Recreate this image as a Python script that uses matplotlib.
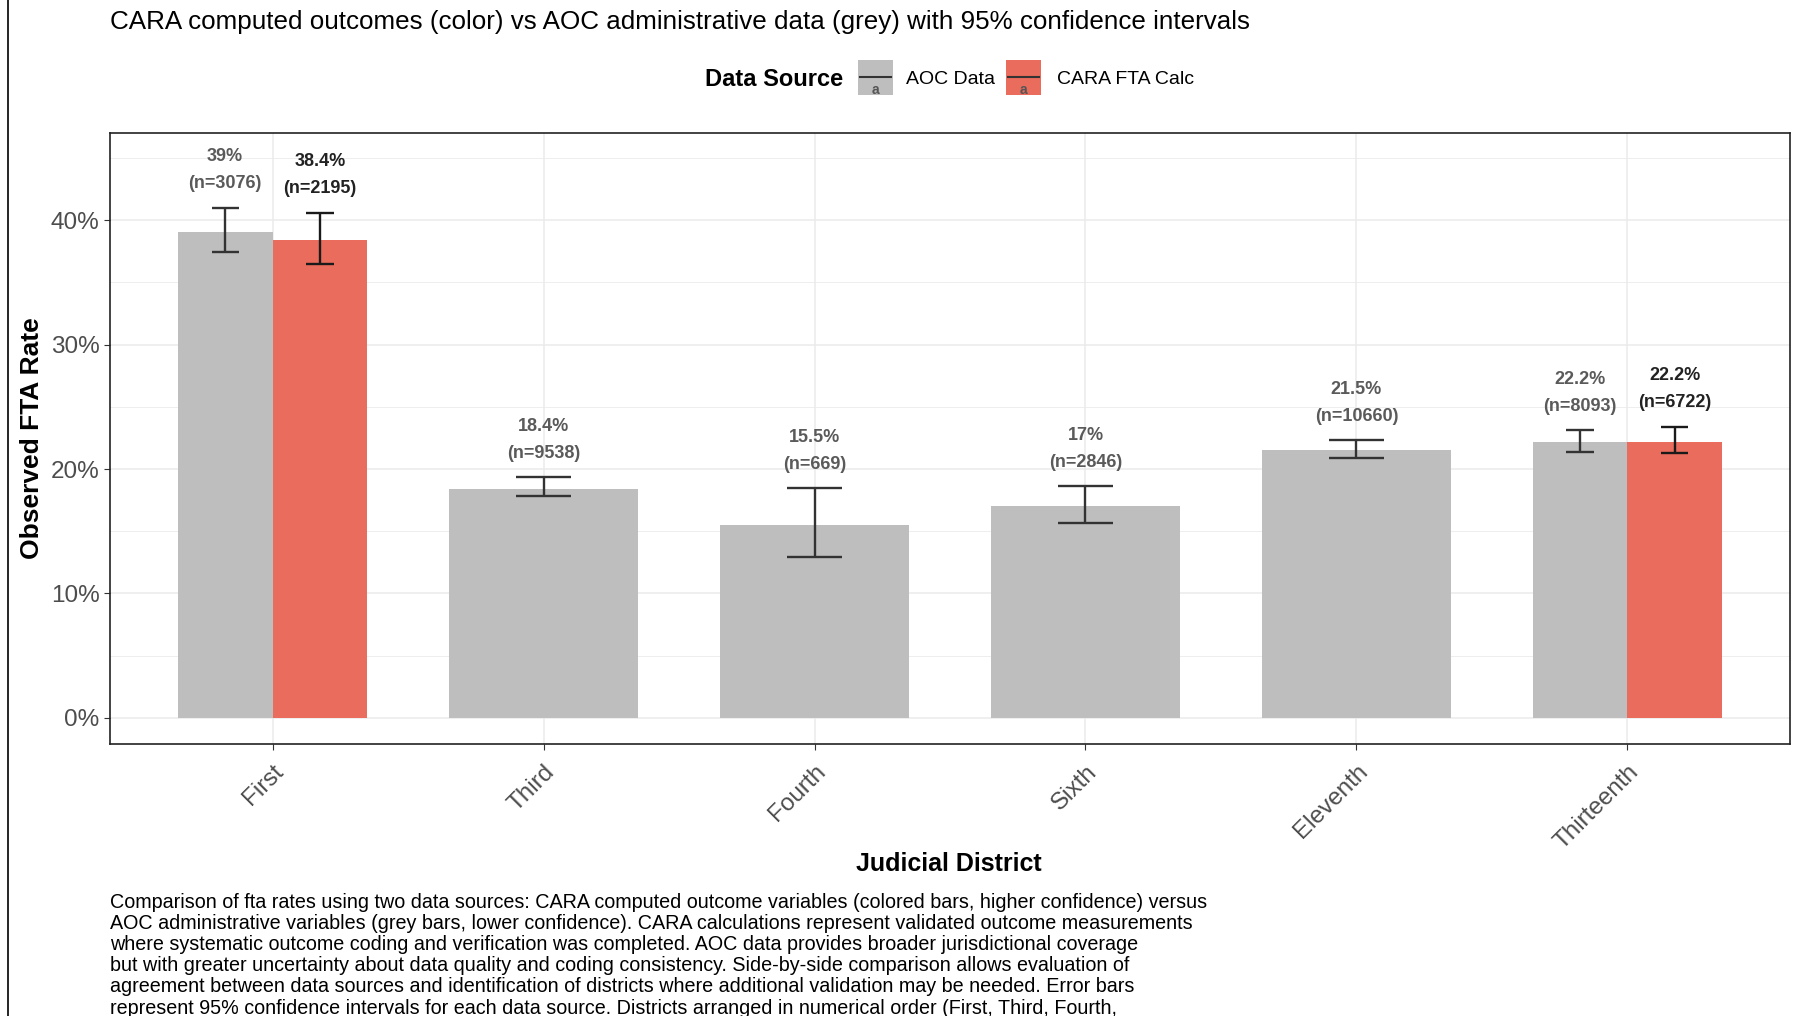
import numpy as np
import matplotlib.pyplot as plt
import matplotlib.transforms as mtransforms
from matplotlib.patches import Rectangle
from matplotlib.lines import Line2D

plt.rcParams['font.family'] = ['Liberation Sans', 'DejaVu Sans']

districts = ["First", "Third", "Fourth", "Sixth", "Eleventh", "Thirteenth"]

# AOC administrative data (grey), all districts
aoc_rate = [0.390, 0.184, 0.155, 0.170, 0.215, 0.222]
aoc_lo = [0.374, 0.178, 0.129, 0.157, 0.209, 0.214]
aoc_hi = [0.410, 0.1935, 0.1845, 0.186, 0.223, 0.231]
aoc_n = [3076, 9538, 669, 2846, 10660, 8093]

# CARA computed outcomes (colour), only two districts
cara_district = ["First", "Thirteenth"]
cara_rate = [0.384, 0.222]
cara_lo = [0.365, 0.213]
cara_hi = [0.406, 0.234]
cara_n = [2195, 6722]

caption_lines = [
    "Comparison of fta rates using two data sources: CARA computed outcome variables (colored bars, higher confidence) versus",
    "AOC administrative variables (grey bars, lower confidence). CARA calculations represent validated outcome measurements",
    "where systematic outcome coding and verification was completed. AOC data provides broader jurisdictional coverage",
    "but with greater uncertainty about data quality and coding consistency. Side-by-side comparison allows evaluation of",
    "agreement between data sources and identification of districts where additional validation may be needed. Error bars",
    "represent 95% confidence intervals for each data source. Districts arranged in numerical order (First, Third, Fourth,",
]

grey = '#BEBEBE'
red = '#EA6C5C'
W, H = 1801, 1016

def pct(r):
    return f"{round(r * 100, 1):g}%"

fig = plt.figure(figsize=(W / 100, H / 100), dpi=100)
ax = fig.add_axes([110 / W, 1 - 744 / H, 1680 / W, 611 / H])

x = np.arange(len(districts))
dodge = 0.7

for i, d in enumerate(districts):
    has_cara = d in cara_district
    if has_cara:
        xa, wa = x[i] - dodge / 4, dodge / 2
    else:
        xa, wa = x[i], dodge
    cap = 0.2 * wa / dodge / 2  # errorbar width 0.2, split when dodged
    ax.bar(xa, aoc_rate[i], width=wa, color=grey, zorder=2)
    ax.vlines(xa, aoc_lo[i], aoc_hi[i], color='#333333', lw=1.7, zorder=3)
    ax.hlines([aoc_lo[i], aoc_hi[i]], xa - cap, xa + cap, color='#333333', lw=1.7, zorder=3)
    ax.text(xa, aoc_hi[i] + 0.0125, f"{pct(aoc_rate[i])}\n(n={aoc_n[i]})", ha='center', va='bottom',
            fontsize=13, fontweight='bold', color='#5a5a5a', linespacing=1.75, zorder=4)
    if has_cara:
        j = cara_district.index(d)
        xc = x[i] + dodge / 4
        ax.bar(xc, cara_rate[j], width=dodge / 2, color=red, zorder=2)
        ax.vlines(xc, cara_lo[j], cara_hi[j], color='#1a1a1a', lw=1.7, zorder=3)
        ax.hlines([cara_lo[j], cara_hi[j]], xc - cap, xc + cap, color='#1a1a1a', lw=1.7, zorder=3)
        ax.text(xc, cara_hi[j] + 0.0125, f"{pct(cara_rate[j])}\n(n={cara_n[j]})", ha='center', va='bottom',
                fontsize=13, fontweight='bold', color='#222222', linespacing=1.75, zorder=4)

ax.set_xlim(-0.6, len(districts) - 0.4)
ax.set_ylim(-0.0209, 0.4699)
ax.set_yticks([0, 0.1, 0.2, 0.3, 0.4])
ax.set_yticks([0.05, 0.15, 0.25, 0.35, 0.45], minor=True)
ax.set_yticklabels([f"{int(v * 100)}%" for v in [0, 0.1, 0.2, 0.3, 0.4]], fontsize=17.5, color='#4d4d4d')
ax.set_xticks(x)
ax.set_xticklabels(districts, rotation=45, ha='right', va='top', rotation_mode='anchor',
                   fontsize=17.5, color='#4d4d4d')
shift = mtransforms.ScaledTranslation(4 / 100, 3 / 100, fig.dpi_scale_trans)
for lbl in ax.get_xticklabels():
    lbl.set_transform(lbl.get_transform() + shift)
ax.tick_params(axis='both', which='major', length=4, color='#333333', width=0.8)
ax.tick_params(axis='x', which='major', pad=8)
ax.tick_params(axis='y', which='minor', length=0)
ax.grid(True, which='major', color='#EBEBEB', lw=1.1, zorder=0)
ax.grid(True, which='minor', axis='y', color='#EBEBEB', lw=0.6, zorder=0)
ax.set_axisbelow(True)
for s in ax.spines.values():
    s.set_color('#222222')
    s.set_linewidth(1.2)

fig.text(32 / W, 1 - 438 / H, "Observed FTA Rate", fontsize=19, fontweight='bold', rotation=90,
         ha='center', va='center')
fig.text(949 / W, 1 - 864 / H, "Judicial District", fontsize=18, fontweight='bold', ha='center', va='center')

fig.text(110 / W, 1 - 22 / H, "CARA computed outcomes (color) vs AOC administrative data (grey) with 95% confidence intervals",
         fontsize=18.7, ha='left', va='center')

# legend drawn by hand, ggplot style
fig.text(705 / W, 1 - 80 / H, "Data Source", fontsize=17, fontweight='bold', ha='left', va='center')
for x0, col, lab, lx in [(858, grey, "AOC Data", 906), (1006, red, "CARA FTA Calc", 1057)]:
    fig.patches.append(Rectangle((x0 / W, 1 - 95 / H), 35 / W, 35 / H, transform=fig.transFigure,
                                 facecolor=col, edgecolor='none'))
    fig.lines.append(Line2D([(x0 + 2) / W, (x0 + 33) / W], [1 - 77 / H, 1 - 77 / H], transform=fig.transFigure,
                            color='#333333', lw=1.5))
    fig.text((x0 + 17.5) / W, 1 - 90 / H, "a", fontsize=10, fontweight='bold', color='#555555',
             ha='center', va='center')
    fig.text(lx / W, 1 - 80 / H, lab, fontsize=14, ha='left', va='center')

for k, line in enumerate(caption_lines):
    fig.text(110 / W, 1 - (902.5 + 21.1 * k) / H, line, fontsize=14.25, ha='left', va='center')

fig.lines.append(Line2D([8 / W, 8 / W], [0, 1], transform=fig.transFigure, color='black', lw=1.2))

fig.savefig("out.png", dpi=100)
